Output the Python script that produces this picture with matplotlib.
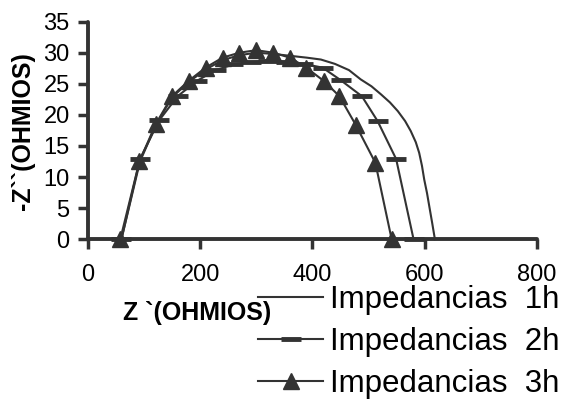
import matplotlib.pyplot as plt

# Datos (Z' en ohmios, -Z'' en ohmios)
z_re_1h = [60, 93, 122, 150, 180, 210, 240, 270, 300, 330, 360, 390, 415, 440, 465, 486, 505, 522,
           538, 552, 565, 575, 584, 590, 595, 599, 604, 608, 613, 618]
z_im_1h = [0, 12.5, 18.5, 22.8, 25.3, 27.3, 28.8, 29.6, 30.0, 29.8, 29.5, 29.2, 28.9, 28.2, 27.2, 25.7, 24.6, 23.3,
           22.0, 20.6, 19.0, 17.4, 15.6, 13.9, 11.8, 9.6, 7.4, 5.3, 2.7, 0]

z_re_2h = [60, 93, 127, 160, 195, 228, 259, 290, 321, 353, 384, 418, 450, 488, 516, 549, 580]
z_im_2h = [0, 12.9, 19.1, 23.0, 25.5, 27.2, 28.1, 28.5, 28.7, 28.5, 28.2, 27.6, 25.6, 23.0, 19.0, 12.9, 0]

z_re_3h = [58, 92, 121, 150, 180, 210, 240, 270, 300, 330, 360, 389, 421, 448, 477, 512, 541]
z_im_3h = [0, 12.5, 18.5, 23.0, 25.5, 27.6, 29.2, 30.0, 30.4, 30.0, 29.2, 27.6, 25.4, 23.0, 18.4, 12.3, 0]

series_labels = ['Impedancias  1h', 'Impedancias  2h', 'Impedancias  3h']
x_ticks = [0, 200, 400, 600, 800]
y_ticks = [0, 5, 10, 15, 20, 25, 30, 35]

plt.rcParams['font.family'] = ['Liberation Sans', 'DejaVu Sans']
gris = '#333333'

fig = plt.figure(figsize=(5.66, 4.0), dpi=100)
ax = fig.add_axes([0.155, 0.402, 0.794, 0.544])

ax.plot(z_re_1h, z_im_1h, color=gris, lw=1.5, zorder=3, clip_on=False, label=series_labels[0])
ax.plot(z_re_2h, z_im_2h, color=gris, lw=1.5, marker='_', ms=14, mew=3.5,
        zorder=3, clip_on=False, label=series_labels[1])
ax.plot(z_re_3h, z_im_3h, color=gris, lw=1.5, marker='^', ms=12,
        zorder=4, clip_on=False, label=series_labels[2])

ax.set_xlim(0, 800)
ax.set_ylim(0, 35)
ax.set_xticks(x_ticks)
ax.set_yticks(y_ticks)

for s in ['top', 'right']:
    ax.spines[s].set_visible(False)
for s in ['left', 'bottom']:
    ax.spines[s].set_linewidth(2.8)
    ax.spines[s].set_color(gris)
    ax.spines[s].set_capstyle('round')

ax.tick_params(axis='both', direction='out', length=7, width=2.5, color=gris, labelsize=17)
ax.tick_params(axis='x', pad=11)
ax.tick_params(axis='y', pad=6)

fig.text(197 / 566, 1 - 313 / 400, 'Z `(OHMIOS)', fontsize=18, fontweight='bold',
         ha='center', va='center')
fig.text(23 / 566, 1 - 131 / 400, '-Z``(OHMIOS)', fontsize=18, fontweight='bold',
         ha='center', va='center', rotation=90)

fig.legend(loc='center left', bbox_to_anchor=(258 / 566, 1 - 342 / 400), frameon=False,
           fontsize=22.5, handlelength=2.08, handletextpad=0.23, labelspacing=0.38,
           borderpad=0, borderaxespad=0)

plt.savefig('out.png', dpi=100)
